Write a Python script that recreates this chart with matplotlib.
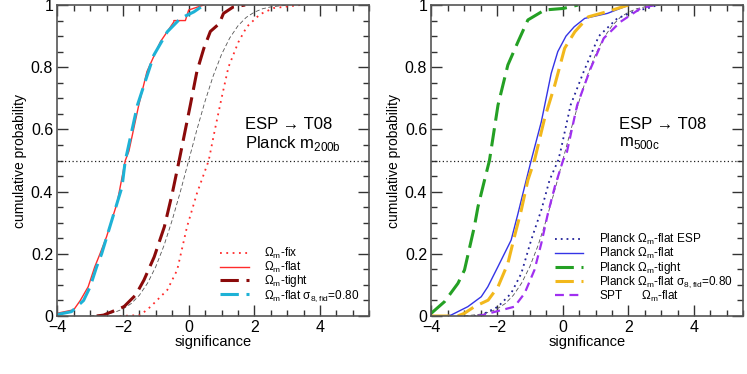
import numpy as np
import matplotlib
matplotlib.use("Agg")
import matplotlib.pyplot as plt
from matplotlib.ticker import MultipleLocator, FuncFormatter

plt.rcParams['font.family'] = ['Liberation Sans', 'DejaVu Sans']
plt.rcParams['mathtext.fontset'] = 'custom'
plt.rcParams['mathtext.rm'] = 'Liberation Sans'
plt.rcParams['axes.unicode_minus'] = True

# ---- data (significance, cumulative probability) ----
# reference curve (thin black dashed), same on both panels
ref_x = [-3.0, -2.75, -2.5, -2.25, -2.0, -1.75, -1.5, -1.25, -1.0, -0.75, -0.5, -0.25,
         0.0, 0.25, 0.5, 0.75, 1.0, 1.25, 1.5, 1.75, 2.0, 2.25, 2.5, 2.75, 3.0]
ref_y = [0.001, 0.003, 0.006, 0.012, 0.023, 0.040, 0.067, 0.106, 0.159, 0.227, 0.309, 0.401,
         0.5, 0.599, 0.691, 0.773, 0.841, 0.894, 0.933, 0.960, 0.977, 0.988, 0.994, 0.997, 0.999]

# left panel: Planck m200b
fix_x = [-2.1, -1.47, -1.16, -0.65, -0.35, -0.05, 0.25, 0.61, 0.8, 1.0, 1.21, 1.51, 1.77, 2.17, 2.58, 3.4]
fix_y = [0.0, 0.003, 0.03, 0.084, 0.148, 0.287, 0.394, 0.5, 0.6, 0.7, 0.8, 0.88, 0.93, 0.97, 0.99, 1.0]

flat_x = [-4.0, -3.5, -3.3, -3.06, -2.86, -2.7, -2.5, -2.18, -1.93, -1.82, -1.52, -1.27, -0.86,
          -0.45, -0.45, -0.1, 0.0, 0.46]
flat_y = [0.009, 0.02, 0.05, 0.094, 0.158, 0.2, 0.255, 0.363, 0.5, 0.53, 0.678, 0.786, 0.882,
          0.946, 0.95, 0.95, 0.984, 1.0]

tight_x = [-2.8, -2.59, -1.97, -1.61, -1.36, -1.05, -0.74, -0.5, -0.29, 0.05, 0.25, 0.46,
           0.66, 0.93, 1.06, 1.36, 1.72]
tight_y = [0.0, 0.003, 0.03, 0.068, 0.116, 0.19, 0.287, 0.394, 0.5, 0.678, 0.786, 0.86,
           0.915, 0.94, 0.973, 0.994, 1.0]

s8_x = [-4.0, -3.57, -3.2, -3.0, -2.8, -2.65, -2.4, -2.03, -1.93, -1.87, -1.56, -1.06, -0.65,
        -0.25, 0.16, 0.46]
s8_y = [0.005, 0.014, 0.05, 0.094, 0.159, 0.2, 0.287, 0.415, 0.5, 0.528, 0.678, 0.839, 0.914,
        0.957, 0.978, 1.0]

# right panel: m500c
esp_x = [-2.7, -2.48, -1.97, -1.57, -1.26, -0.96, -0.65, -0.4, -0.14, -0.07, 0.24, 0.64,
         1.1, 1.66, 2.2, 2.6, 2.9]
esp_y = [0.0, 0.003, 0.03, 0.073, 0.137, 0.244, 0.341, 0.437, 0.5, 0.528, 0.678, 0.786,
         0.9, 0.957, 0.98, 0.99, 1.0]

pflat_x = [-3.6, -3.4, -2.89, -2.48, -2.28, -1.97, -1.57, -1.36, -1.16, -0.96, -0.65, -0.35,
           -0.15, 0.1, 0.35, 0.67, 1.36, 2.02]
pflat_y = [0.0, 0.003, 0.03, 0.062, 0.094, 0.159, 0.244, 0.33, 0.416, 0.5, 0.625, 0.78,
           0.85, 0.9, 0.93, 0.957, 0.973, 1.0]

ptight_x = [-4.0, -3.6, -3.19, -2.99, -2.69, -2.58, -2.38, -2.23, -1.97, -1.67, -1.36, -1.06,
            -0.55, 0.02, 0.47]
ptight_y = [0.009, 0.046, 0.105, 0.148, 0.287, 0.351, 0.437, 0.5, 0.678, 0.807, 0.882, 0.952,
            0.984, 0.989, 1.0]

ps8_x = [-4.0, -3.2, -2.99, -2.69, -2.27, -1.97, -1.67, -1.47, -1.26, -1.06, -0.86, -0.55,
         -0.24, 0.06, 0.37, 0.78, 1.4, 2.0]
ps8_y = [0.0, 0.0, 0.009, 0.03, 0.051, 0.094, 0.169, 0.255, 0.341, 0.437, 0.5, 0.636,
         0.743, 0.861, 0.914, 0.962, 0.98, 1.0]

spt_x = [-2.6, -2.48, -1.47, -1.16, -0.86, -0.65, -0.45, -0.24, 0.01, 0.13, 0.44, 0.85,
         1.25, 1.76, 2.37, 2.8]
spt_y = [0.0, 0.002, 0.03, 0.073, 0.148, 0.234, 0.33, 0.416, 0.5, 0.528, 0.678, 0.796,
         0.893, 0.946, 0.989, 1.0]

fig = plt.figure(figsize=(7.47, 3.74), dpi=100)
axL = fig.add_axes([0.0767, 0.155, 0.4177, 0.8316])
axR = fig.add_axes([0.5774, 0.155, 0.4177, 0.8316])


def style_axes(ax):
    ax.set_xlim(-4, 5.5)
    ax.set_ylim(0, 1)
    ax.xaxis.set_major_locator(MultipleLocator(2))
    ax.xaxis.set_minor_locator(MultipleLocator(0.5))
    ax.yaxis.set_major_locator(MultipleLocator(0.2))
    ax.yaxis.set_minor_locator(MultipleLocator(0.05))
    ax.yaxis.set_major_formatter(FuncFormatter(lambda v, p: "%g" % round(v, 2)))
    ax.tick_params(which='both', direction='in', top=True, right=True,
                   color='#333333', labelsize=11.5, pad=3)
    ax.tick_params(which='major', length=8, width=1)
    ax.tick_params(which='minor', length=4, width=1)
    for s in ax.spines.values():
        s.set_color('#555555')
        s.set_linewidth(1.2)
    ax.set_xlabel("significance", fontsize=10.5, labelpad=0)
    ax.set_ylabel("cumulative probability", fontsize=10, labelpad=3)
    ax.axhline(0.5, color='#222222', lw=0.9, ls=(0, (1, 2)))
    ax.plot(ref_x, ref_y, color='#555555', lw=0.6, ls=(0, (5, 3)))


def add_legend(ax, x0):
    ax.legend(loc='lower left', bbox_to_anchor=(x0, 0.04), bbox_transform=ax.transData,
              frameon=False, fontsize=8.5, handlelength=2.4, handletextpad=1.3,
              labelspacing=-0.12, borderpad=0, borderaxespad=0)


style_axes(axL)
style_axes(axR)

# left panel
axL.plot(fix_x, fix_y, color='#ff2b2b', lw=1.3, ls=(0, (1, 2.5)), label="Ω$_{\\rm m}$-fix")
axL.plot(flat_x, flat_y, color='#ff2b2b', lw=1.0, label="Ω$_{\\rm m}$-flat")
axL.plot(tight_x, tight_y, color='#8b0a0a', lw=2.2, ls=(0, (6, 2.5)), label="Ω$_{\\rm m}$-tight")
axL.plot(s8_x, s8_y, color='#1eb2d6', lw=2.2, ls=(0, (6, 2.5)),
         label="Ω$_{\\rm m}$-flat σ$_{\\rm 8,fid}$=0.80")
axL.text(1.72, 0.616, "ESP → T08", fontsize=12, va='center')
axL.text(1.72, 0.555, "Planck m$_{\\rm 200b}$", fontsize=12, va='center')
add_legend(axL, 0.96)

# right panel
axR.plot(esp_x, esp_y, color='#22229a', lw=1.3, ls=(0, (1, 2.2)), label="Planck Ω$_{\\rm m}$-flat ESP")
axR.plot(pflat_x, pflat_y, color='#3434e6', lw=1.0, label="Planck Ω$_{\\rm m}$-flat")
axR.plot(ptight_x, ptight_y, color='#24a024', lw=2.2, ls=(0, (6, 2.5)), label="Planck Ω$_{\\rm m}$-tight")
axR.plot(ps8_x, ps8_y, color='#f2b81c', lw=2.2, ls=(0, (6, 2.5)),
         label="Planck Ω$_{\\rm m}$-flat σ$_{\\rm 8,fid}$=0.80")
axR.plot(spt_x, spt_y, color='#a030f0', lw=1.6, ls=(0, (4, 2.5)), label="SPT      Ω$_{\\rm m}$-flat")
axR.text(1.72, 0.616, "ESP → T08", fontsize=12, va='center')
axR.text(1.72, 0.555, "m$_{\\rm 500c}$", fontsize=12, va='center')
add_legend(axR, -0.23)

fig.savefig("out.png", dpi=100)
